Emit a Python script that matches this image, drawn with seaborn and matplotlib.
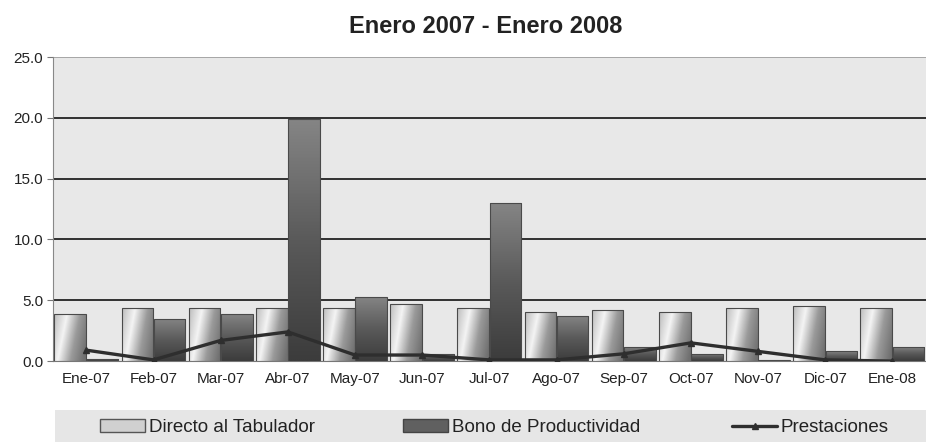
import numpy as np
import pandas as pd
import seaborn as sns
import matplotlib.pyplot as plt
from matplotlib.patches import Patch, Rectangle
from matplotlib.lines import Line2D
from matplotlib.colors import LinearSegmentedColormap

# Datos
meses = ["Ene-07", "Feb-07", "Mar-07", "Abr-07", "May-07", "Jun-07", "Jul-07",
         "Ago-07", "Sep-07", "Oct-07", "Nov-07", "Dic-07", "Ene-08"]
directo = [3.9, 4.4, 4.4, 4.4, 4.4, 4.7, 4.4, 4.0, 4.2, 4.0, 4.4, 4.5, 4.4]
bono = [0.2, 3.5, 3.9, 19.9, 5.3, 0.6, 13.0, 3.7, 1.2, 0.6, 0.1, 0.8, 1.2]
prestaciones = [0.9, 0.1, 1.7, 2.4, 0.5, 0.5, 0.1, 0.1, 0.6, 1.5, 0.8, 0.1, 0.0]
series = ["Directo al Tabulador", "Bono de Productividad"]

sns.set_style("white")
plt.rcParams['font.family'] = ['Liberation Sans', 'DejaVu Sans']

df = pd.DataFrame({
    "mes": meses * 2,
    "valor": directo + bono,
    "serie": [series[0]] * len(meses) + [series[1]] * len(meses),
})

fig = plt.figure(figsize=(9.26, 4.42), dpi=100)
ax = fig.add_axes([0.057, 0.183, 0.943, 0.688])
ax.set_facecolor("#e8e8e8")

sns.barplot(data=df, x="mes", y="valor", hue="serie", order=meses, hue_order=series,
            width=0.96, gap=0.02, palette=["#c8c8c8", "#606060"], edgecolor="#4a4a4a",
            linewidth=0.8, legend=False, ax=ax, zorder=3)

# relleno degradado en cada barra
cm_dir = LinearSegmentedColormap.from_list("d", ["#bdbdbd", "#f4f4f4", "#9a9a9a", "#707070"])
cm_bono = LinearSegmentedColormap.from_list("b", ["#3c3c3c", "#5a5a5a", "#858585"])
xx, yy = np.meshgrid(np.linspace(0, 1, 40), np.linspace(0, 1, 80))
grad_dir = np.clip(xx * 0.8 + (1 - yy) * 0.25, 0, 1)
grad_bono = yy
n = len(meses)
for i, p in enumerate(ax.patches[:2 * n]):
    x0, y0 = p.get_x(), p.get_y()
    w, h = p.get_width(), p.get_height()
    if h <= 0:
        continue
    if i < n:
        img = ax.imshow(grad_dir, extent=[x0, x0 + w, y0, y0 + h], origin="lower",
                        aspect="auto", cmap=cm_dir, zorder=3.5)
    else:
        img = ax.imshow(grad_bono, extent=[x0, x0 + w, y0, y0 + h], origin="lower",
                        aspect="auto", cmap=cm_bono, zorder=3.5)
    img.set_clip_path(p)
    p.set_zorder(4)
    p.set_facecolor("none")

ax.plot(range(n), prestaciones, color="#2e2e2e", lw=2.4, marker="^", ms=4, zorder=5)

ax.set_xlim(-0.5, n - 0.5)
ax.set_ylim(0, 25)
ax.set_yticks([0, 5, 10, 15, 20, 25])
ax.set_yticklabels([f"{v:.1f}" for v in [0, 5, 10, 15, 20, 25]], fontsize=11, color="#222222")
for v in [5, 10, 15, 20]:
    ax.axhline(v, color="#222222", lw=1.3, zorder=1)
ax.axhline(25, color="#9a9a9a", lw=1.2, zorder=1)
ax.set_xticks(range(n))
ax.set_xticklabels(meses, fontsize=11, color="#222222")
ax.set_xticks(np.arange(-0.5, n, 1), minor=True)
ax.tick_params(axis="x", which="major", length=0, pad=8)
ax.tick_params(axis="x", which="minor", length=4, color="#777777")
ax.tick_params(axis="y", length=4, color="#777777", left=True, pad=3)
ax.set_xlabel("")
ax.set_ylabel("")
for s in ["top", "right"]:
    ax.spines[s].set_visible(False)
ax.spines["left"].set_color("#888888")
ax.spines["bottom"].set_color("#777777")

fig.text(0.524, 0.939, "Enero 2007 - Enero 2008", ha="center", va="center",
         fontsize=17, fontweight="bold", color="#222222")

# caja de la leyenda
fig.patches.append(Rectangle((55 / 926, 0), 1 - 55 / 926, 32 / 442,
                             transform=fig.transFigure, facecolor="#e6e6e6",
                             edgecolor="none", zorder=0))
handles = [Patch(facecolor="#d0d0d0", edgecolor="#555555"),
           Patch(facecolor="#606060", edgecolor="#444444"),
           Line2D([], [], color="#2e2e2e", lw=2.4, marker="^", ms=4)]
labels = [series[0], series[1], "Prestaciones"]
xpos = [100 / 926, 403 / 926, 732 / 926]
for h, l, x in zip(handles, labels, xpos):
    leg = fig.legend([h], [l], loc="center left", bbox_to_anchor=(x, 0.032),
                     fontsize=13.5, frameon=False, borderpad=0, borderaxespad=0,
                     handlelength=2.4, handleheight=0.7, handletextpad=0.2,
                     labelcolor="#222222")

fig.savefig("out.png", dpi=100)
